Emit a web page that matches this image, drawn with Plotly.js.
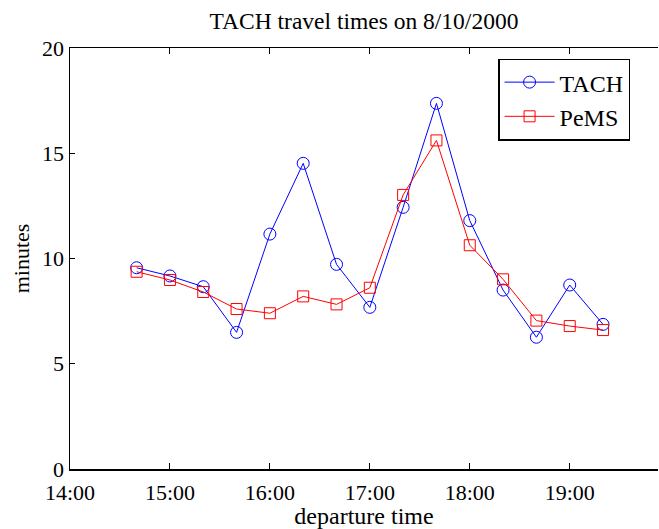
<!DOCTYPE html>
<html>
<head>
<meta charset="utf-8">
<script src="https://cdn.plot.ly/plotly-3.0.1.min.js"></script>
<style>html,body{margin:0;padding:0;background:#fff;overflow:hidden;}</style>
</head>
<body>
<div id="chart" style="width:659px;height:529px;"></div>
<script>
const times = ["14:40","15:00","15:20","15:40","16:00","16:20","16:40","17:00","17:20","17:40","18:00","18:20","18:40","19:00","19:20"];
const tachMinutes = [9.56, 9.17, 8.66, 6.49, 11.16, 14.52, 9.72, 7.68, 12.43, 17.37, 11.80, 8.50, 6.26, 8.74, 6.87];
const pemsMinutes = [9.37, 8.98, 8.41, 7.60, 7.40, 8.20, 7.82, 8.61, 13.02, 15.61, 10.63, 9.01, 7.05, 6.79, 6.60];
const day = "2000-08-10 ";
const xs = times.map(t => day + t);

const font = "Liberation Serif, Times New Roman, serif";
const traces = [
  {x: xs, y: tachMinutes, name: "TACH", type: "scatter", mode: "lines+markers",
   line: {color: "#0000ff", width: 1},
   marker: {symbol: "circle-open", size: 12, color: "#0000ff", line: {width: 1, color: "#0000ff"}}},
  {x: xs, y: pemsMinutes, name: "PeMS", type: "scatter", mode: "lines+markers",
   line: {color: "#ff0000", width: 1},
   marker: {symbol: "square-open", size: 11, color: "#ff0000", line: {width: 1, color: "#ff0000"}}}
];
const layout = {
  width: 659, height: 529,
  margin: {l: 70, r: 1, t: 48, b: 60},
  paper_bgcolor: "#fff", plot_bgcolor: "#fff",
  font: {family: font, size: 22, color: "#000"},
  title: {text: "TACH travel times on 8/10/2000", font: {family: font, size: 23.5, color: "#000"}, x: 0.5, xref: "paper", xanchor: "center", y: 0.96, yanchor: "middle"},
  showlegend: true,
  legend: {x: 0.728, y: 0.975, xanchor: "left", yanchor: "top", bordercolor: "#000", borderwidth: 1.5, bgcolor: "#fff",
           font: {family: font, size: 24, color: "#000"}, tracegroupgap: 0, itemwidth: 50},
  xaxis: {type: "date", range: [day + "14:00", day + "19:53"], dtick: 3600000, tick0: day + "14:00", tickformat: "%H:%M",
          showgrid: false, zeroline: false, showline: true, linecolor: "#000", linewidth: 1.5, mirror: "ticks",
          ticks: "inside", ticklen: 6, tickwidth: 1, tickcolor: "#000", ticklabelstandoff: 3,
          tickfont: {family: font, size: 22, color: "#000"},
          title: {text: "departure time", font: {family: font, size: 24, color: "#000"}, standoff: 0}},
  yaxis: {range: [0, 20], dtick: 5, showgrid: false, zeroline: false, showline: true, linecolor: "#000", linewidth: 1.5,
          ticks: "inside", ticklen: 5, tickwidth: 1, tickcolor: "#000",
          tickfont: {family: font, size: 22, color: "#000"},
          title: {text: "minutes", font: {family: font, size: 22, color: "#000"}, standoff: 6}}
};
Plotly.newPlot("chart", traces, layout, {displayModeBar: false, staticPlot: true});
</script>
</body>
</html>
